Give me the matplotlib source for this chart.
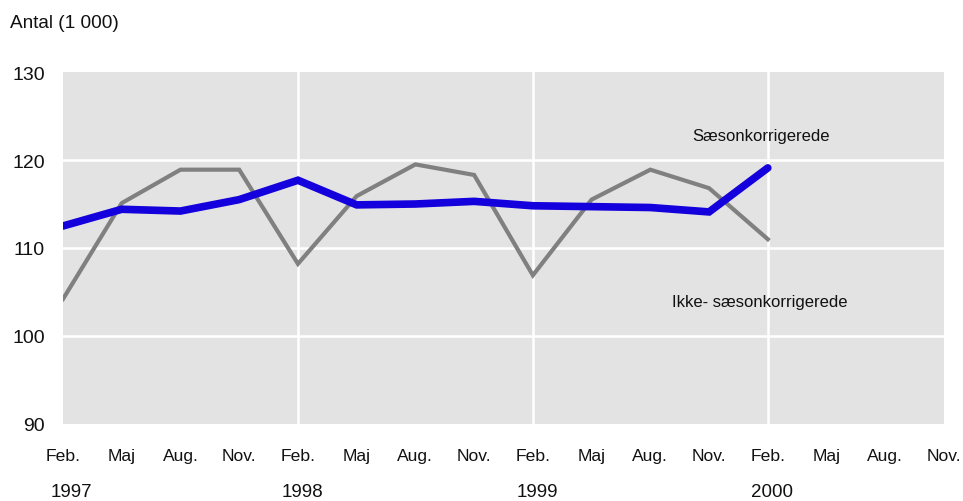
import matplotlib
matplotlib.use("Agg")
import matplotlib.pyplot as plt
import matplotlib.transforms as mtransforms

# ---- data ----
tick_labels = ['Feb.', 'Maj', 'Aug.', 'Nov.'] * 4
year_labels = ['1997', '1998', '1999', '2000']
ikke_saeson = [104.2, 115.1, 118.9, 118.9, 108.2, 115.9, 119.5, 118.3,
               106.9, 115.5, 118.9, 116.8, 111.0]
saeson = [112.5, 114.4, 114.2, 115.5, 117.7, 114.9, 115.0, 115.3,
          114.8, 114.7, 114.6, 114.1, 119.1]
y_ticks = [90, 100, 110, 120, 130]

FONT = ['Liberation Sans Narrow', 'Liberation Sans', 'DejaVu Sans']
plt.rcParams['font.family'] = FONT

fig = plt.figure(figsize=(9.63, 5.02), dpi=100)
ax = fig.add_axes([63/963, 77/502, (944-63)/963, (425-73)/502])
ax.set_facecolor('#e3e3e3')

x = list(range(len(saeson)))
ax.plot(x, ikke_saeson, color='#808080', lw=3.0, solid_joinstyle='miter', zorder=3)
ax.plot(x, saeson, color='#1400dc', lw=5.5, solid_capstyle='round',
        solid_joinstyle='miter', zorder=4)

ax.set_xlim(0, 15)
ax.set_ylim(90, 130)

for v in [100, 110, 120]:
    ax.axhline(v, color='white', lw=1.8, zorder=1)
for xi in [4, 8, 12]:
    ax.axvline(xi, color='white', lw=1.8, zorder=1)

for s in ax.spines.values():
    s.set_visible(False)

ax.set_xticks(range(16))
ax.set_xticklabels(tick_labels, fontsize=12.6, color='#111111')
ax.set_yticks(y_ticks)
ax.set_yticklabels([str(v) for v in y_ticks], fontsize=14, color='#111111')
ax.tick_params(axis='x', length=0, pad=17)
ax.tick_params(axis='y', length=0, pad=13)

trans = mtransforms.blended_transform_factory(ax.transData, fig.transFigure)
for i, yl in enumerate(year_labels):
    ax.text(i*4 + (0.15 if i == 0 else 0.07), 9/502, yl, transform=trans,
            ha='center', va='center', fontsize=13.5, color='#111111', clip_on=False)

ax.text(11.88, 122.8, 'Sæsonkorrigerede', ha='center', va='center',
        fontsize=12, color='#111111')
ax.text(11.87, 103.9, 'Ikke- sæsonkorrigerede', ha='center', va='center',
        fontsize=12, color='#111111')

fig.text(10/963, 1 - 24/502, 'Antal (1 000)', ha='left', va='center',
         fontsize=13.7, color='#111111')

fig.savefig('out.png', dpi=100)
